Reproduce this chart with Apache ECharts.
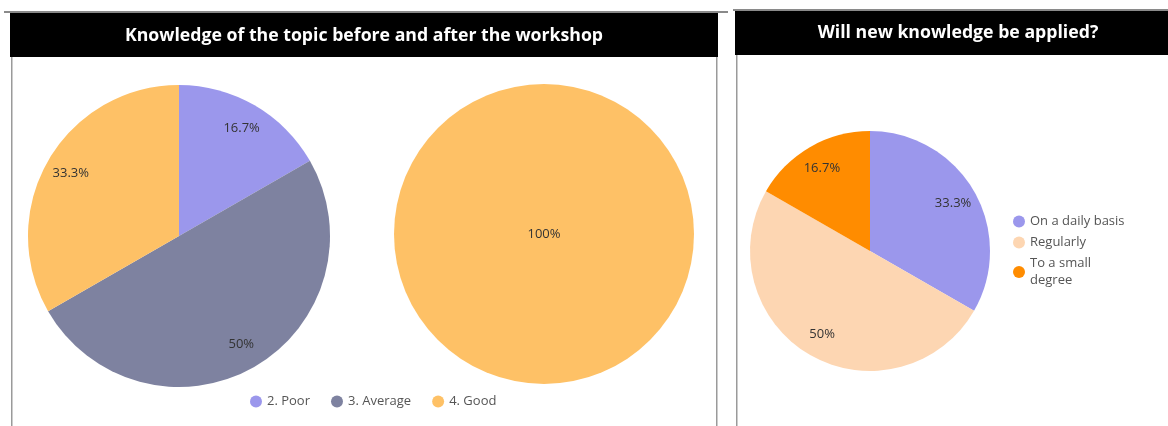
<!DOCTYPE html>
<html>
<head>
<meta charset="utf-8">
<script src="https://cdn.jsdelivr.net/npm/echarts@6/dist/echarts.min.js"></script>
<style>
html,body{margin:0;padding:0;background:#fff;}
#main{width:1168px;height:426px;}
</style>
</head>
<body>
<div id="main"></div>
<script>
// ---- data ----
const knowledgeCategories = ['2. Poor', '3. Average', '4. Good'];
const knowledgeBefore = [16.7, 50, 33.3];
const knowledgeAfter = [0, 0, 100];
const applyCategories = ['On a daily basis', 'Regularly', 'To a small degree'];
const applyValues = [33.3, 50, 16.7];
const titleLeft = 'Knowledge of the topic before and after the workshop';
const titleRight = 'Will new knowledge be applied?';

// ---- styles ----
const knowledgeColors = ['#9b97ec', '#7e82a0', '#fec166'];
const applyColors = ['#9b97ec', '#fdd6b2', '#ff8c00'];
const FONT = 'Open Sans';

function toData(cats, vals, colors) {
  return cats.map((n, i) => ({ name: n, value: vals[i], itemStyle: { color: colors[i] } }))
             .filter(d => d.value > 0);
}
function overlayData(cats, vals) {
  return cats.map((n, i) => ({ name: n, value: vals[i] })).filter(d => d.value > 0);
}

const labelStyle = { color: '#333', fontSize: 13, fontFamily: FONT };

const chart = echarts.init(document.getElementById('main'), null, { renderer: 'canvas' });
chart.setOption({
  animation: false,
  backgroundColor: '#fff',
  graphic: [
    // left panel
    { type: 'rect', shape: { x: 4, y: 11, width: 724, height: 2 }, style: { fill: '#8a8a8a' }, z: 1 },
    { type: 'rect', shape: { x: 10, y: 13, width: 708, height: 44 }, style: { fill: '#000' }, z: 1 },
    { type: 'rect', shape: { x: 11, y: 57, width: 1.5, height: 369 }, style: { fill: '#9a9a9a' }, z: 1 },
    { type: 'rect', shape: { x: 716, y: 57, width: 1.5, height: 369 }, style: { fill: '#9a9a9a' }, z: 1 },
    { type: 'text', x: 364, y: 36, style: { text: titleLeft, fill: '#fff', fontSize: 17.7, fontWeight: 'bold', fontFamily: FONT, align: 'center', verticalAlign: 'middle' }, z: 2 },
    // right panel
    { type: 'rect', shape: { x: 733, y: 9, width: 435, height: 2 }, style: { fill: '#8a8a8a' }, z: 1 },
    { type: 'rect', shape: { x: 735, y: 11, width: 433, height: 44 }, style: { fill: '#000' }, z: 1 },
    { type: 'rect', shape: { x: 736, y: 55, width: 1.5, height: 371 }, style: { fill: '#9a9a9a' }, z: 1 },
    { type: 'text', x: 958, y: 33, style: { text: titleRight, fill: '#fff', fontSize: 17.7, fontWeight: 'bold', fontFamily: FONT, align: 'center', verticalAlign: 'middle' }, z: 2 }
  ],
  legend: [
    {
      data: knowledgeCategories,
      left: 245, top: 390,
      icon: 'circle', itemWidth: 12, itemHeight: 12, itemGap: 21,
      textStyle: { color: '#555', fontSize: 13, fontFamily: FONT },
      selectedMode: false
    },
    {
      data: applyCategories,
      orient: 'vertical',
      left: 1008, top: 208,
      icon: 'circle', itemWidth: 12, itemHeight: 12, itemGap: 4,
      textStyle: { color: '#555', fontSize: 13, fontFamily: FONT, lineHeight: 17 },
      formatter: n => n === 'To a small degree' ? 'To a small\ndegree' : n,
      selectedMode: false
    }
  ],
  series: [
    {
      type: 'pie', center: [179, 236], radius: [0, 151], startAngle: 90, clockwise: true,
      data: toData(knowledgeCategories, knowledgeBefore, knowledgeColors),
      label: { show: false }, labelLine: { show: false }, silent: true
    },
    {
      type: 'pie', center: [179, 236], radius: [93, 151], startAngle: 90, clockwise: true,
      data: overlayData(knowledgeCategories, knowledgeBefore),
      itemStyle: { color: 'rgba(0,0,0,0)' },
      label: Object.assign({ show: true, position: 'inside', formatter: '{c}%' }, labelStyle),
      labelLine: { show: false }, silent: true, z: 3
    },
    {
      type: 'pie', center: [544, 234], radius: [0, 150], startAngle: 90, clockwise: true,
      data: toData(knowledgeCategories, knowledgeAfter, knowledgeColors),
      label: Object.assign({ show: true, position: 'center', formatter: '{c}%' }, labelStyle),
      labelLine: { show: false }, silent: true
    },
    {
      type: 'pie', center: [870, 251], radius: [0, 120], startAngle: 90, clockwise: true,
      data: toData(applyCategories, applyValues, applyColors),
      label: { show: false }, labelLine: { show: false }, silent: true
    },
    {
      type: 'pie', center: [870, 251], radius: [66, 120], startAngle: 90, clockwise: true,
      data: overlayData(applyCategories, applyValues),
      itemStyle: { color: 'rgba(0,0,0,0)' },
      label: Object.assign({ show: true, position: 'inside', formatter: '{c}%' }, labelStyle),
      labelLine: { show: false }, silent: true, z: 3
    }
  ]
});
</script>
</body>
</html>
